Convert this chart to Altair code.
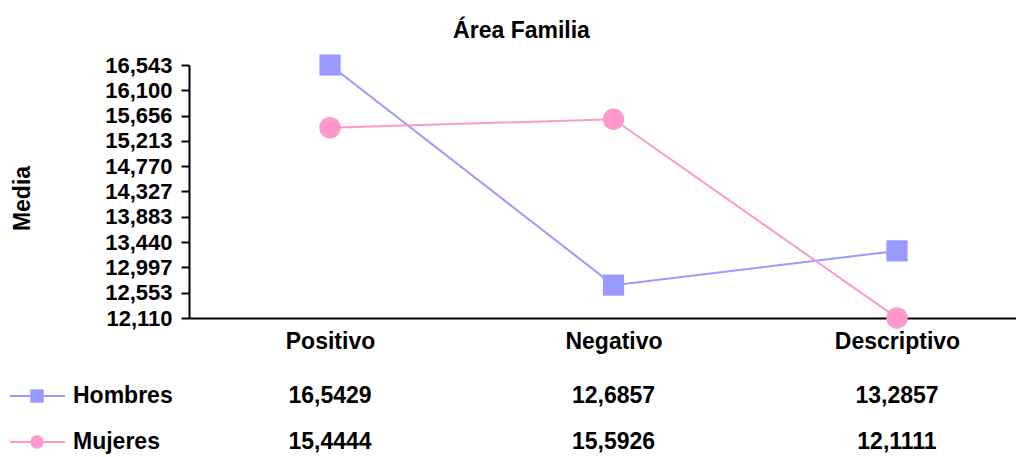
import altair as alt
import pandas as pd

categories = ["Positivo", "Negativo", "Descriptivo"]
series = ["Hombres", "Mujeres"]
hombres = [16.5429, 12.6857, 13.2857]
mujeres = [15.4444, 15.5926, 12.1111]
y_ticks = [12.110, 12.553, 12.997, 13.440, 13.883, 14.327, 14.770, 15.213, 15.656, 16.100, 16.543]
colors = ["#9999FF", "#FF99CC"]
title_text = "Área Familia"
y_title = "Media"

rows = []
for s, vals in zip(series, [hombres, mujeres]):
    for c, v in zip(categories, vals):
        rows.append({"serie": s, "categoria": c, "media": v})
df = pd.DataFrame(rows)
legend_df = pd.DataFrame({"serie": series})

FONT = "Liberation Sans"

x_scale = alt.Scale(type="point", domain=categories, padding=0.4586, align=0.5423)
x_axis = alt.Axis(title=None, labelAngle=0, ticks=False, grid=False, domainColor="black",
                  domainWidth=2, labelFont=FONT, labelFontSize=23, labelFontWeight="bold",
                  labelColor="black", labelPadding=12)

def x_enc():
    return alt.X("categoria:N", scale=x_scale, axis=x_axis, sort=categories)

y_enc = alt.Y("media:Q",
              scale=alt.Scale(domain=[12.110, 16.543], nice=False, zero=False),
              axis=alt.Axis(values=y_ticks,
                            labelExpr="replace(format(datum.value, '.3f'), '.', ',')",
                            title=y_title, titleFont=FONT, titleFontSize=23, titleFontWeight="bold",
                            titleColor="black", titleX=-167, titleY=133, titleAngle=-90,
                            titleAlign="center", titleBaseline="middle",
                            grid=False, domainColor="black", domainWidth=2,
                            tickColor="black", tickWidth=2, tickSize=8, labelPadding=9,
                            labelFont=FONT, labelFontSize=22, labelFontWeight="bold",
                            labelColor="black", labelFlush=False, labelOverlap=False))

color_enc = alt.Color("serie:N", scale=alt.Scale(domain=series, range=colors), legend=None)
shape_enc = alt.Shape("serie:N", scale=alt.Scale(domain=series, range=["square", "circle"]),
                      legend=None)

# row scale of the data table under the plot (also used by the legend rows)
row_enc = alt.Y("serie:N", scale=alt.Scale(type="point", domain=series, range=[331, 377], padding=0),
                axis=None)

base = alt.Chart(df)

lines = base.mark_line(strokeWidth=2).encode(
    x=x_enc(), y=y_enc, color=color_enc, detail="serie:N",
)

squares = base.transform_filter(alt.datum.serie == series[0]).mark_square(
    size=450, opacity=1).encode(x=x_enc(), y=y_enc, color=color_enc)

circles = base.transform_filter(alt.datum.serie == series[1]).mark_circle(
    size=460, opacity=1).encode(x=x_enc(), y=y_enc, color=color_enc)

table = base.transform_calculate(
    label="replace(format(datum.media, '.4f'), '.', ',')"
).mark_text(font=FONT, fontSize=23, fontWeight="bold", color="black").encode(
    x=x_enc(), y=row_enc, text="label:N",
)

# legend keys in the table's first column (line + marker + name)
leg = alt.Chart(legend_df)
leg_rule = leg.mark_rule(strokeWidth=2).encode(
    x=alt.value(-179), x2=alt.value(-124), y=row_enc, color=color_enc)
leg_pts = leg.mark_point(filled=True, opacity=1, size=180).encode(
    x=alt.value(-152), y=row_enc, color=color_enc, shape=shape_enc)
leg_txt = leg.mark_text(font=FONT, fontSize=23, fontWeight="bold", color="black",
                        align="left", baseline="middle").encode(
    x=alt.value(-116), y=row_enc, text="serie:N")

main = alt.layer(lines, squares, circles)
bottom = alt.layer(table, leg_rule, leg_pts, leg_txt)

chart = alt.layer(main, bottom).resolve_scale(y="independent").properties(
    width=827, height=253,
    padding={"left": 181, "top": 57, "right": 0, "bottom": 139},
    autosize=alt.AutoSizeParams(type="none"),
    title=alt.TitleParams(title_text, font=FONT, fontSize=23, fontWeight="bold", color="black",
                          anchor="middle", dx=-81, offset=11),
).configure_view(stroke=None)

chart.save("out.html", embed_options={"renderer": "svg", "actions": False})
